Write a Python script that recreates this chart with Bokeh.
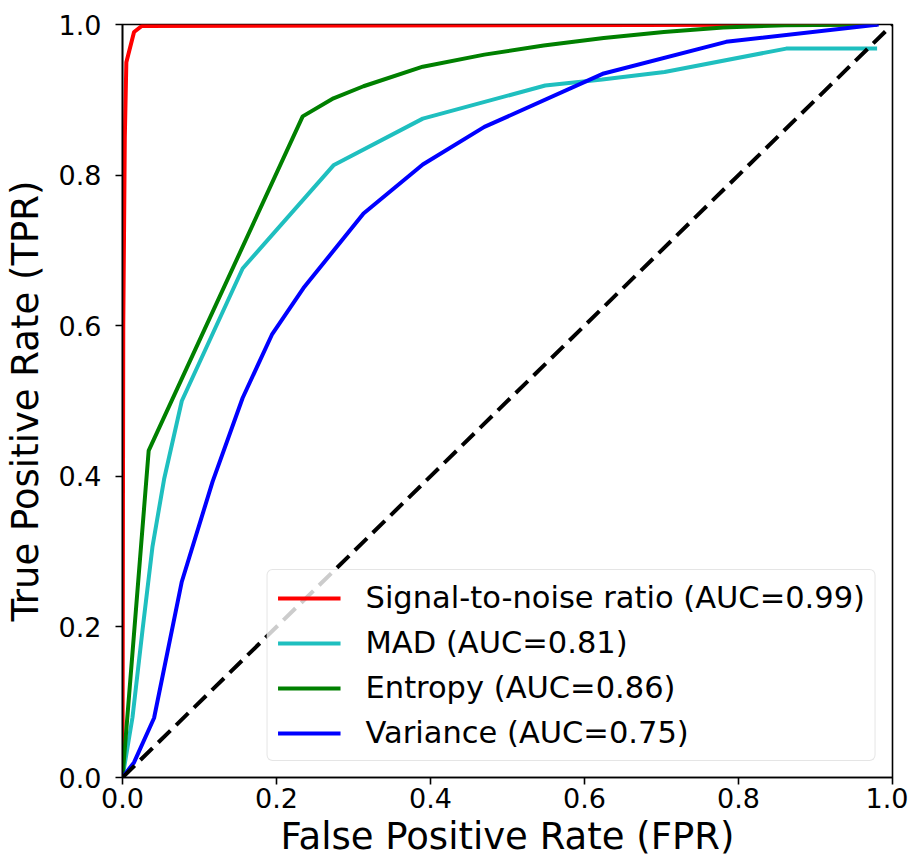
from bokeh.plotting import figure
from bokeh.models import Range1d, FixedTicker, NumeralTickFormatter, Legend, LegendItem
from bokeh.embed import file_html
from bokeh.resources import INLINE

# ---- data ----
snr_fpr = [0.0, 0.001, 0.003, 0.005, 0.015, 0.025, 0.98]
snr_tpr = [0.0, 0.60, 0.85, 0.95, 0.99, 0.998, 1.0]

mad_fpr = [0.0, 0.013, 0.026, 0.039, 0.054, 0.077, 0.156, 0.274, 0.39, 0.549, 0.623, 0.704, 0.862, 0.98]
mad_tpr = [0.0, 0.08, 0.196, 0.307, 0.396, 0.50, 0.676, 0.813, 0.875, 0.919, 0.927, 0.937, 0.968, 0.968]

ent_fpr = [0.0, 0.034, 0.234, 0.274, 0.313, 0.39, 0.47, 0.547, 0.625, 0.703, 0.78, 0.86, 0.98]
ent_tpr = [0.0, 0.434, 0.878, 0.902, 0.918, 0.944, 0.960, 0.972, 0.982, 0.990, 0.996, 0.999, 1.0]

var_fpr = [0.0, 0.015, 0.041, 0.077, 0.117, 0.156, 0.194, 0.235, 0.313, 0.39, 0.47, 0.625, 0.784, 0.982]
var_tpr = [0.0, 0.02, 0.079, 0.26, 0.393, 0.504, 0.588, 0.650, 0.749, 0.814, 0.864, 0.935, 0.977, 1.0]

diag = [0.0, 1.0]

labels = ["Signal-to-noise ratio (AUC=0.99)", "MAD (AUC=0.81)",
          "Entropy (AUC=0.86)", "Variance (AUC=0.75)"]
colors = ["#ff0000", "#1fbfbf", "#008000", "#0000ff"]

ticks = [0.0, 0.2, 0.4, 0.6, 0.8, 1.0]

FONT = "DejaVu Sans"

p = figure(width=908, height=860, output_backend="svg", toolbar_location=None,
           x_range=Range1d(0, 1), y_range=Range1d(0, 1),
           min_border_left=118, min_border_right=16, min_border_top=24,
           min_border_bottom=82)

series = [(snr_fpr, snr_tpr), (mad_fpr, mad_tpr), (ent_fpr, ent_tpr), (var_fpr, var_tpr)]
rends = []
for (xs, ys), c in zip(series, colors):
    rends.append(p.line(xs, ys, line_color=c, line_width=4))

p.line(diag, diag, line_color="black", line_width=4, line_dash="17 8")

for ax in (p.xaxis[0], p.yaxis[0]):
    ax.ticker = FixedTicker(ticks=ticks)
    ax.formatter = NumeralTickFormatter(format="0.0")
    ax.minor_tick_line_color = None
    ax.major_tick_in = 0
    ax.major_tick_out = 7
    ax.major_tick_line_width = 1.6
    ax.major_tick_line_color = "black"
    ax.axis_line_color = "black"
    ax.axis_line_width = 1.6
    ax.major_label_text_font = FONT
    ax.major_label_text_font_size = "27px"
    ax.major_label_text_color = "black"
    ax.axis_label_text_font = FONT
    ax.axis_label_text_font_size = "37px"
    ax.axis_label_text_font_style = "normal"
    ax.axis_label_text_color = "black"

p.xaxis.axis_label = "False Positive Rate (FPR)"
p.yaxis.axis_label = "True Positive Rate (TPR)"
p.xaxis.major_label_standoff = 3
p.xaxis.axis_label_standoff = 4
p.yaxis.major_label_standoff = 14
p.yaxis.axis_label_standoff = 9

p.xgrid.visible = False
p.ygrid.visible = False
p.outline_line_color = "black"
p.outline_line_width = 1.6
p.outline_line_alpha = 1.0

legend = Legend(items=[LegendItem(label=l, renderers=[r]) for l, r in zip(labels, rends)],
                location="bottom_right")
legend.margin = 16
legend.padding = 10
legend.spacing = 10
legend.glyph_width = 63
legend.glyph_height = 34
legend.label_height = 34
legend.label_standoff = 25
legend.label_text_font = FONT
legend.label_text_font_size = "30.5px"
legend.label_text_color = "black"
legend.border_line_color = "#cccccc"
legend.border_line_width = 1.5
legend.border_radius = 6
legend.background_fill_color = "white"
legend.background_fill_alpha = 0.8
p.add_layout(legend)

open("out.html", "w").write(file_html(p, INLINE))
